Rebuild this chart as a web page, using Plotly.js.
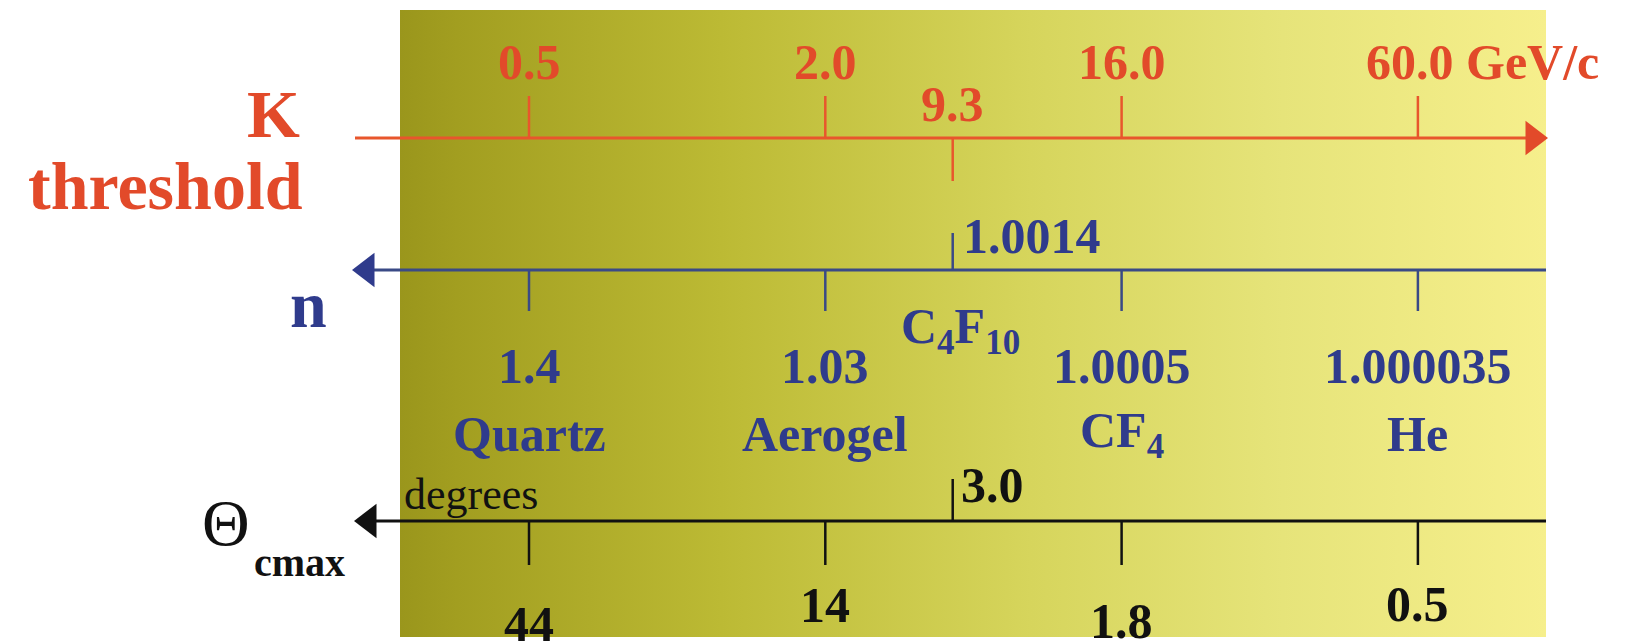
<!DOCTYPE html>
<html>
<head>
<meta charset="utf-8">
<script src="https://cdn.plot.ly/plotly-3.0.1.min.js"></script>
<style>html,body{margin:0;padding:0;background:#fff;}#chart{width:1625px;height:642px;}</style>
</head>
<body>
<div id="chart"></div>
<script>
// ---- data ----
const materials  = ['Quartz', 'Aerogel', 'C<sub>4</sub>F<sub>10</sub>', 'CF<sub>4</sub>', 'He'];
const kThreshold = ['0.5', '2.0', '9.3', '16.0', '60.0'];   // GeV/c
const refIndex   = ['1.4', '1.03', '1.0014', '1.0005', '1.000035'];
const thetaMax   = ['44', '14', '3.0', '1.8', '0.5'];       // degrees
const scalePos   = [0, 1, 1.43, 2, 3];                      // position along the common scale
const special    = 2;                                       // C4F10 drawn on the other side

// ---- styling ----
const RED = '#e24a2a', RED_LINE = '#e8562c', BLUE = '#2f3b8c', BLUE_LINE = '#3a4a86', BLACK = '#111111';
const SERIF = 'Liberation Serif, Times New Roman, serif';
const X0 = 529, UNIT = 296.3;               // pixel of position 0, pixels per unit
const p = px => (px - X0) / UNIT;             // layout helper (pixel -> scale units)
const yK = 138, yN = 270, yT = 521;

const traces = [];
// background with horizontal gradient
traces.push({
  x: [p(400), p(1546), p(1546), p(400), p(400)],
  y: [10, 10, 637, 637, 10],
  mode: 'lines', fill: 'toself', line: {width: 0},
  fillgradient: {type: 'horizontal', colorscale: [
    [0, '#9a961c'], [0.05, '#a29e20'], [0.28, '#bcba34'], [0.55, '#d6d55c'], [0.77, '#e6e47a'], [1, '#f6ef8c']]},
  hoverinfo: 'skip', showlegend: false
});

function axisTrace(y, x1, x2, color) {
  return {x: [x1, x2], y: [y, y], mode: 'lines', line: {color: color, width: 3}, hoverinfo: 'skip', showlegend: false};
}
function tickTrace(y, upLen, downLen, color, specialUp) {
  const xs = [], ys = [];
  scalePos.forEach((v, i) => {
    const isSp = i === special;
    const up = specialUp ? isSp : !isSp;
    xs.push(v, v, null);
    ys.push(y, up ? y - upLen : y + downLen, null);
  });
  return {x: xs, y: ys, mode: 'lines', line: {color: color, width: 2.5}, hoverinfo: 'skip', showlegend: false};
}
function arrow(x, y, sym, color) {
  return {x: [x], y: [y], mode: 'markers', marker: {symbol: sym, size: 30, color: color, line: {width: 0}}, hoverinfo: 'skip', showlegend: false};
}

// K threshold axis (arrow to the right)
traces.push(axisTrace(yK, p(355), p(1530), RED_LINE));
traces.push(tickTrace(yK, 42, 43, RED_LINE, false));
traces.push(arrow(p(1533), yK, 'triangle-right', RED));
// refractive index axis (arrow to the left)
traces.push(axisTrace(yN, p(370), p(1546), BLUE_LINE));
traces.push(tickTrace(yN, 37, 41, BLUE_LINE, true));
traces.push(arrow(p(367), yN, 'triangle-left', BLUE));
// theta axis (arrow to the left)
traces.push(axisTrace(yT, p(372), p(1546), BLACK));
traces.push(tickTrace(yT, 42, 44, BLACK, true));
traces.push(arrow(p(369), yT, 'triangle-left', BLACK));

const ann = [];
function A(x, y, text, size, color, opts) {
  ann.push(Object.assign({x: x, y: y, xref: 'x', yref: 'y', text: text, showarrow: false,
    font: {family: SERIF, size: size, color: color, weight: 'bold'}, xanchor: 'center', yanchor: 'middle'}, opts || {}));
}
// left titles
A(p(302), 114, 'K', 68, RED, {xanchor: 'right'});
A(p(305), 186, 'threshold', 68, RED, {xanchor: 'right'});
A(p(308), 304, 'n', 66, BLUE);
ann.push({x: p(226), y: 522, xref: 'x', yref: 'y', text: 'Θ', showarrow: false,
  font: {family: SERIF, size: 66, color: BLACK}, xanchor: 'center', yanchor: 'middle'});
A(p(299), 562, 'cmax', 40, BLACK);
ann.push({x: p(402), y: 494, xref: 'x', yref: 'y', text: 'degrees', showarrow: false,
  font: {family: SERIF, size: 44, color: BLACK}, xanchor: 'left', yanchor: 'middle'});

scalePos.forEach((v, i) => {
  if (i === special) {
    A(v, 104, kThreshold[i], 50, RED);
    A(p(X0 + v * UNIT + 8), 236, refIndex[i], 50, BLUE, {xanchor: 'left'});
    A(v + 0.025, 330, materials[i], 50, BLUE);
    A(p(X0 + v * UNIT + 6), 485, thetaMax[i], 50, BLACK, {xanchor: 'left'});
  } else {
    if (i === kThreshold.length - 1) {
      A(p(X0 + v * UNIT - 54), 62, kThreshold[i] + ' GeV/c', 50, RED, {xanchor: 'left'});
    } else {
      A(v, 62, kThreshold[i], 50, RED);
    }
    A(v, 366, refIndex[i], 50, BLUE);
    A(v, 434, materials[i], 50, BLUE);
    const ty = [624, 605, 0, 621, 604][i];
    A(v, ty, thetaMax[i], 50, BLACK);
  }
});

const layout = {
  width: 1625, height: 642,
  margin: {l: 0, r: 0, t: 0, b: 0},
  paper_bgcolor: '#ffffff', plot_bgcolor: 'rgba(0,0,0,0)',
  xaxis: {range: [p(0), p(1625)], visible: false, fixedrange: true},
  yaxis: {range: [642, 0], visible: false, fixedrange: true},
  showlegend: false,
  annotations: ann
};
Plotly.newPlot('chart', traces, layout, {displayModeBar: false, staticPlot: true});
</script>
</body>
</html>
